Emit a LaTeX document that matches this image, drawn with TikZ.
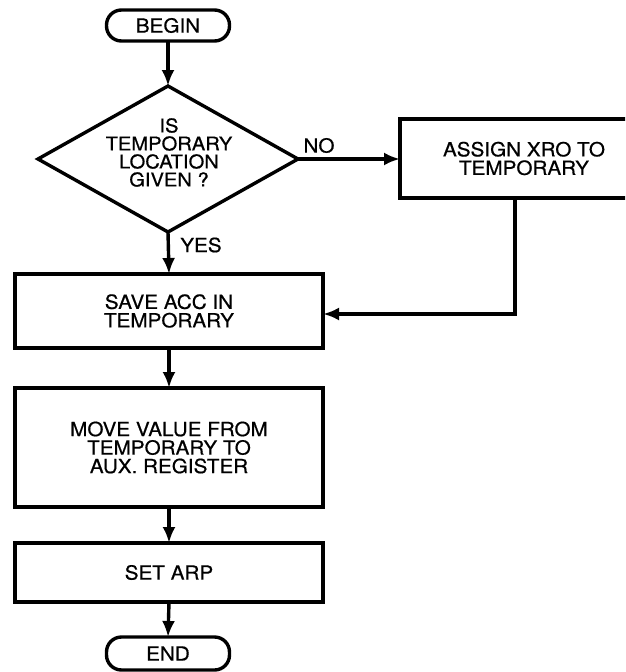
\documentclass[tikz,border=0pt]{standalone}
\usepackage{fontspec}
\setmainfont{TeX Gyre Heros}[FakeStretch=1.06,FakeBold=0.6]
\usetikzlibrary{shapes.geometric,arrows.meta}
\newcommand\boxfont{\fontsize{19.5}{18.5}\selectfont}
\newcommand\decfont{\fontsize{19}{18}\selectfont}
\begin{document}
\begin{tikzpicture}[x=1pt,y=-1pt,
  box/.style={draw,line width=3.6pt,rectangle,inner sep=0pt,outer sep=0pt,align=center,font=\boxfont},
  term/.style={draw,line width=3.4pt,rectangle,rounded corners=15pt,minimum width=123pt,minimum height=31pt,inner sep=0pt,outer sep=0pt,font=\boxfont},
  decision/.style={draw,line width=3.4pt,diamond,aspect=1.78,minimum width=260pt,minimum height=146pt,inner sep=0pt,outer sep=0pt},
  flow/.style={line width=3.4pt,-{Latex[length=16pt,width=13pt]}},
  lbl/.style={font=\boxfont,inner sep=0pt},
  dtext/.style={font=\decfont,inner sep=0pt,align=center}]
\clip (0,0) rectangle (625,672);
% nodes
\node[term] (begin) at (168,25.5) {BEGIN};
\node[decision] (dec) at (168,159) {};
\node[dtext] (dectext) at (169,152.5) {IS\\TEMPORARY\\LOCATION\\GIVEN ?};
\node[box,minimum width=248pt,minimum height=79pt] (assign) at (524,158.5) {ASSIGN XRO TO\\TEMPORARY};
\node[box,minimum width=308pt,minimum height=74pt] (save) at (169,311) {SAVE ACC IN\\TEMPORARY};
\node[box,minimum width=308pt,minimum height=119pt] (move) at (169,447.5) {MOVE VALUE FROM\\TEMPORARY TO\\AUX. REGISTER};
\node[box,minimum width=308pt,minimum height=59pt] (setarp) at (169,572.5) {SET ARP};
\node[term,minimum height=33pt] (end) at (168,653.5) {END};
% labels
\node[lbl] (no) at (319,145.5) {NO};
\node[lbl] (yes) at (201,245) {YES};
% connectors
\coordinate (turn) at (515,314);
\draw[flow] (begin.south) -- (dec.north);
\draw[flow] (dec.east) -- (dec.east -| assign.west);
\draw[flow] (dec.south) -- (save.north);
\draw[flow] (assign.south -| turn) -- (turn) -- (turn -| save.east);
\draw[flow] (save.south) -- (move.north);
\draw[flow] (move.south) -- (setarp.north);
\draw[flow] (setarp.south) -- (end.north);
\end{tikzpicture}
\end{document}
